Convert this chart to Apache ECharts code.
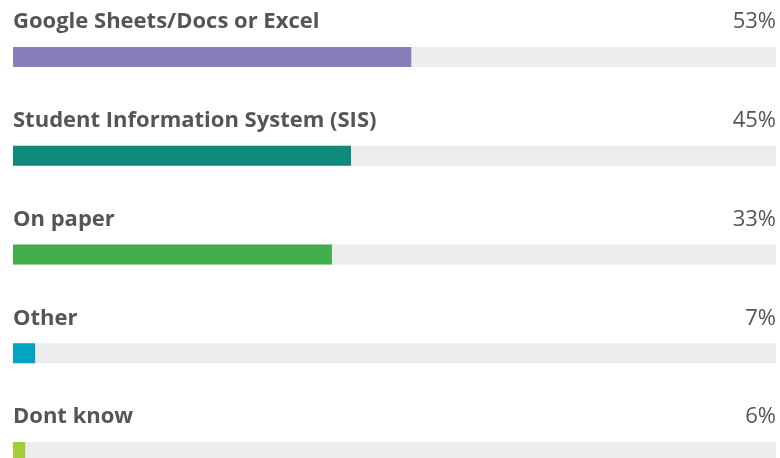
<!DOCTYPE html>
<html>
<head>
<meta charset="utf-8">
<script src="https://cdn.jsdelivr.net/npm/echarts@6/dist/echarts.min.js"></script>
<style>
  html, body { margin: 0; padding: 0; background: #fff; }
  #chart { width: 780px; height: 458px; }
</style>
</head>
<body>
<div id="chart"></div>
<script>
// answers, top to bottom
var categories = ['Google Sheets/Docs or Excel', 'Student Information System (SIS)', 'On paper', 'Other', 'Dont know'];
// bar lengths as drawn (share of the full track)
var barValues = [52.2, 44.3, 41.8, 2.9, 1.6];
// numbers printed at the right
var percentLabels = ['53%', '45%', '33%', '7%', '6%'];
var barColors = ['#877ebc', '#118a7c', '#42ad4a', '#00a3c1', '#a4cd3c'];
var trackValues = [100, 100, 100, 100, 100];

var chart = echarts.init(document.getElementById('chart'));
chart.setOption({
  animation: false,
  // bars sit on the ticks, so the first and last bar centre on the grid edges
  grid: { left: 13, right: 4, top: 57, height: 395 },
  xAxis: { type: 'value', min: 0, max: 100, show: false },
  yAxis: {
    type: 'category',
    data: categories,
    inverse: true,
    boundaryGap: false,
    show: false
  },
  series: [
    {
      type: 'bar',
      data: trackValues,
      barWidth: 20,
      barGap: '-100%',
      clip: false,
      silent: true,
      itemStyle: { color: '#ececec' },
      label: {
        show: true,
        position: ['100%', -25],
        align: 'right',
        verticalAlign: 'middle',
        fontFamily: 'Open Sans',
        fontSize: 22,
        color: '#555',
        formatter: function (p) { return percentLabels[p.dataIndex]; }
      }
    },
    {
      type: 'bar',
      data: barValues.map(function (v, i) {
        return { value: v, itemStyle: { color: barColors[i] } };
      }),
      barWidth: 20,
      barGap: '-100%',
      clip: false,
      label: {
        show: true,
        position: [0, -25],
        align: 'left',
        verticalAlign: 'middle',
        fontFamily: 'Open Sans',
        fontWeight: 'bold',
        fontSize: 22,
        color: '#555',
        formatter: function (p) { return categories[p.dataIndex]; }
      }
    }
  ]
});
</script>
</body>
</html>
